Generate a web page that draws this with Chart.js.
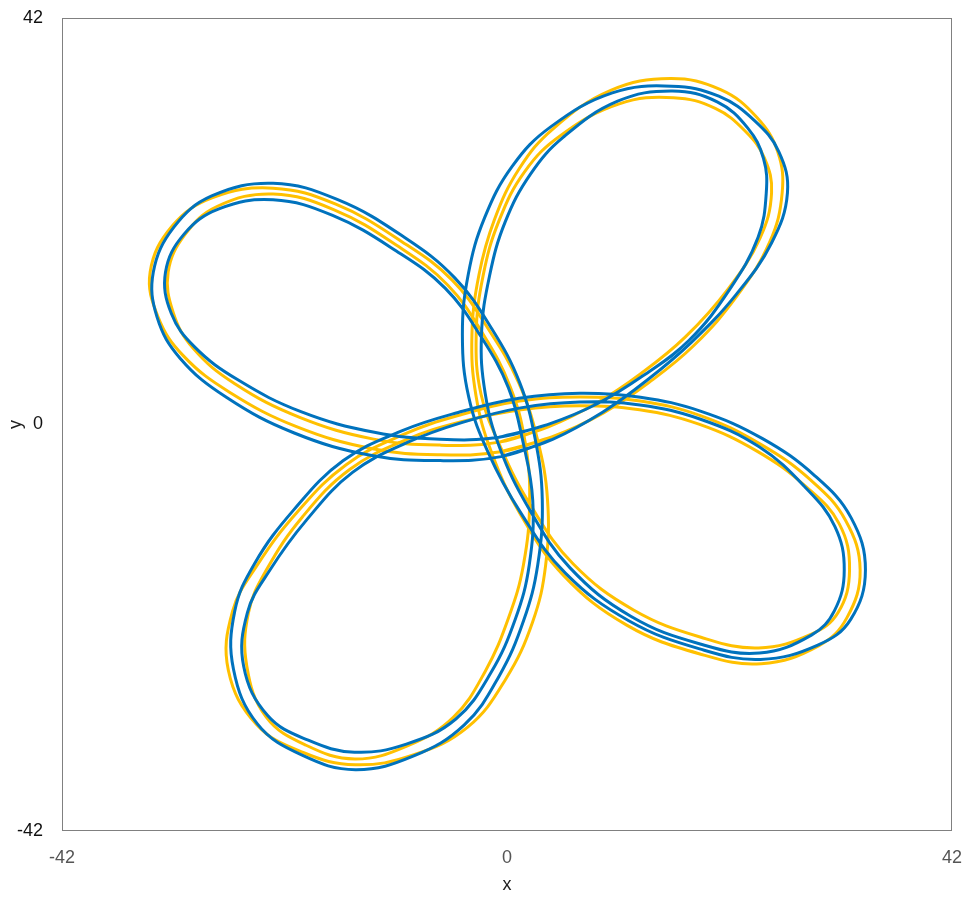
<!DOCTYPE html>
<html>
<head>
<meta charset="utf-8">
<script src="https://cdn.jsdelivr.net/npm/chart.js@4.4.1/dist/chart.umd.min.js"></script>
<style>
    html, body { margin: 0; padding: 0; background: #fff; }
    #wrap { width: 970px; height: 921px; position: relative; }
</style>
</head>
<body>
<div id="wrap"><canvas id="flower"></canvas></div>
<script>
// Tick labels on both axes
const xTicks = [-42, 0, 42];
const yTicks = [-42, 0, 42];

// Blue curve, first pass
const blue1X = [-0.56, 4.30, 9.02, 13.21, 17.40, 21.64, 24.98, 26.47, 25.65, 23.31, 19.99, 15.54, 9.94, 4.12, 0.52, -2.11, -3.65, -4.21, -3.61, -1.75,
    1.30, 5.51, 11.49, 18.18, 23.92, 29.39, 32.44, 33.83, 32.47, 29.06, 24.12, 18.32, 12.59, 6.89, 1.14, -4.61, -9.94, -15.48, -20.13, -23.83,
    -25.70, -25.82, -23.56, -19.34, -14.30, -8.80, -4.03, -0.76, 1.57, 2.90, 3.33, 2.65, 1.18, -1.42, -4.93, -9.73, -16.03, -22.08, -27.87, -31.44,
    -33.38, -33.02, -30.84, -26.49, -20.08, -12.76, -6.32];
const blue1Y = [-3.32, -1.53, 1.27, 4.57, 8.49, 13.45, 18.78, 23.92, 28.20, 31.45, 33.92, 34.96, 34.27, 30.75, 26.72, 21.37, 15.55, 9.25, 2.83, -2.96,
    -9.13, -15.35, -20.27, -23.18, -24.27, -22.76, -20.13, -15.03, -9.62, -5.30, -1.46, 1.36, 2.82, 3.23, 2.71, 1.24, -0.66, -3.75, -8.82, -14.38,
    -19.31, -25.26, -30.93, -34.17, -35.66, -34.24, -31.03, -26.03, -20.26, -14.51, -7.76, -1.45, 4.38, 9.87, 15.15, 19.37, 23.25, 24.92, 23.61, 20.39,
    15.75, 11.07, 6.83, 2.81, -0.88, -3.21, -3.73];

// Blue curve, second pass
const blue2X = [-0.76, 3.82, 8.52, 12.83, 17.19, 21.00, 23.70, 24.47, 24.21, 22.71, 19.84, 15.62, 10.44, 5.32, 2.23, -0.17, -1.65, -2.41, -2.06, -0.69,
    2.02, 5.93, 11.68, 18.23, 23.83, 28.73, 30.91, 31.83, 30.94, 28.16, 23.80, 18.20, 12.55, 6.89, 1.29, -4.28, -9.35, -14.58, -18.93, -22.39,
    -24.50, -24.85, -22.59, -18.76, -14.39, -9.50, -4.83, -1.55, 0.79, 2.10, 2.43, 1.51, 0.14, -2.46, -5.84, -10.45, -16.46, -22.08, -27.19, -30.48,
    -32.23, -31.69, -29.49, -25.44, -19.39, -12.52, -6.32];
const blue2Y = [-1.32, -0.01, 2.14, 5.03, 8.70, 13.93, 19.34, 23.92, 27.48, 30.65, 33.34, 34.46, 33.40, 29.69, 25.90, 20.93, 15.35, 9.25, 3.23, -2.40,
    -8.59, -14.79, -19.81, -22.68, -23.62, -21.76, -19.23, -15.03, -10.52, -6.50, -2.31, 0.57, 2.02, 2.33, 1.72, 0.20, -1.83, -4.95, -9.88, -15.06,
    -19.43, -25.01, -30.07, -32.62, -33.86, -33.02, -30.43, -25.71, -20.10, -14.51, -7.85, -1.81, 3.78, 9.09, 14.09, 17.93, 21.60, 23.22, 22.28, 19.67,
    15.75, 11.49, 8.02, 4.64, 1.30, -0.81, -1.53];

// Yellow curve, first pass
const gold1X = [-0.61, 4.23, 9.07, 13.39, 17.68, 21.76, 24.80, 25.97, 25.56, 23.55, 20.16, 15.42, 9.79, 4.35, 1.15, -1.19, -2.65, -3.31, -2.93, -1.48,
    1.22, 5.33, 11.30, 18.13, 23.99, 29.45, 32.10, 33.33, 31.96, 28.70, 23.91, 18.25, 12.57, 6.89, 1.19, -4.52, -9.76, -15.18, -19.83, -23.56,
    -25.90, -26.30, -23.64, -19.24, -14.32, -8.85, -3.71, -0.11, 2.41, 3.65, 3.82, 2.84, 1.10, -1.66, -5.15, -9.96, -16.16, -22.08, -27.78, -31.60,
    -33.68, -32.93, -30.54, -26.19, -19.87, -12.69, -6.32];
const gold1Y = [-2.82, -1.29, 1.18, 4.33, 8.21, 13.36, 18.86, 23.92, 28.16, 31.77, 34.60, 35.75, 34.53, 30.55, 26.42, 21.16, 15.45, 9.25, 3.00, -2.82,
    -9.19, -15.59, -20.73, -23.68, -24.71, -22.84, -19.93, -15.03, -9.92, -5.78, -2.03, 0.92, 2.42, 2.83, 2.42, 0.96, -1.02, -4.15, -9.09, -14.51,
    -19.29, -25.39, -30.99, -33.89, -35.16, -34.15, -31.27, -26.29, -20.43, -14.51, -7.71, -1.39, 4.33, 9.69, 14.89, 18.92, 22.76, 24.42, 23.44, 20.51,
    15.75, 11.10, 7.09, 3.34, -0.22, -2.51, -3.13];

// Yellow curve, second pass
const gold2X = [-0.71, 3.90, 8.47, 12.65, 16.84, 20.88, 23.88, 24.97, 24.30, 22.47, 19.66, 15.72, 10.59, 5.10, 1.69, -0.75, -2.25, -2.91, -2.45, -0.60,
    2.26, 6.23, 11.94, 18.30, 23.74, 28.68, 31.25, 32.33, 31.36, 28.22, 23.63, 18.11, 12.52, 6.89, 1.32, -4.31, -9.49, -14.82, -19.31, -22.66,
    -24.40, -24.56, -22.74, -18.96, -14.35, -9.40, -5.07, -2.06, 0.15, 1.55, 2.14, 1.70, 0.31, -2.22, -5.58, -10.23, -16.31, -22.08, -27.33, -30.40,
    -31.98, -31.50, -29.64, -25.69, -19.57, -12.59, -6.32];
const gold2Y = [-1.82, -0.25, 2.22, 5.27, 9.05, 14.02, 19.26, 23.92, 27.53, 30.33, 32.66, 33.77, 33.13, 29.89, 26.16, 21.06, 15.41, 9.25, 3.13, -2.35,
    -8.41, -14.39, -19.16, -21.98, -23.08, -21.68, -19.43, -15.03, -10.27, -6.42, -2.78, 0.03, 1.52, 1.93, 1.53, 0.29, -1.56, -4.63, -9.55, -14.94,
    -19.44, -24.94, -30.20, -33.14, -34.56, -33.20, -30.25, -25.51, -19.97, -14.51, -7.88, -1.75, 3.88, 9.27, 14.39, 18.38, 22.18, 23.82, 22.55, 19.61,
    15.75, 11.55, 7.89, 4.21, 0.74, -1.51, -2.13];

const BLUE = '#0072BD';
const GOLD = '#FFC000';

document.addEventListener('DOMContentLoaded', () => {
    drawChart();
});

// Turn two coordinate lists into a closed loop of points
function toLoop(xs, ys) {
    const pts = xs.map((x, i) => ({ x: x, y: ys[i] }));
    pts.push({ x: xs[0], y: ys[0] });
    pts.push({ x: xs[1], y: ys[1] });
    return pts;
}

function curve(label, xs, ys, color) {
    return {
        label: label,
        data: toLoop(xs, ys),
        showLine: true,
        borderColor: color,
        backgroundColor: color,
        borderWidth: 3,
        pointRadius: 0,
        pointHoverRadius: 0,
        tension: 0.4,
        fill: false,
    };
}

// Box around the plot area
const frame = {
    id: 'frame',
    afterDatasetsDraw(chart) {
        const { ctx, chartArea: a } = chart;
        ctx.save();
        ctx.strokeStyle = '#808080';
        ctx.lineWidth = 1;
        ctx.strokeRect(a.left + 0.5, a.top + 0.5, a.right - a.left - 1, a.bottom - a.top - 1);
        ctx.restore();
    }
};

function drawChart() {
    const ctx = document.getElementById('flower').getContext('2d');
    const font = { family: '"Liberation Sans", Arial, sans-serif', size: 18 };

    new Chart(ctx, {
        type: 'scatter',
        data: {
            datasets: [
                curve('blue 1', blue1X, blue1Y, BLUE),
                curve('blue 2', blue2X, blue2Y, BLUE),
                curve('yellow 1', gold1X, gold1Y, GOLD),
                curve('yellow 2', gold2X, gold2Y, GOLD),
            ],
        },
        options: {
            responsive: true,
            maintainAspectRatio: false,
            animation: false,
            layout: { padding: { top: 18, right: 18, left: 0, bottom: 0 } },
            plugins: {
                legend: { display: false },
                tooltip: { enabled: false },
            },
            scales: {
                x: {
                    type: 'linear',
                    min: -42,
                    max: 42,
                    afterBuildTicks: (s) => { s.ticks = xTicks.map(v => ({ value: v })); },
                    afterFit: (s) => {
                        s.height = 90;
                        s.paddingLeft = 0;
                        s.paddingRight = 0;
                    },
                    grid: { display: false, drawTicks: false },
                    border: { display: false },
                    ticks: { color: '#555555', font: font, padding: 16, maxRotation: 0 },
                    title: { display: true, text: 'x', color: '#222222', font: font, padding: { top: 0, bottom: 25 } },
                },
                y: {
                    type: 'linear',
                    min: -42,
                    max: 42,
                    afterBuildTicks: (s) => { s.ticks = yTicks.map(v => ({ value: v })); },
                    afterFit: (s) => {
                        s.width = 62;
                        s.paddingTop = 0;
                        s.paddingBottom = 0;
                    },
                    grid: { display: false, drawTicks: false },
                    border: { display: false },
                    ticks: { color: '#111111', font: font, padding: 19 },
                    title: { display: true, text: 'y', color: '#222222', font: font, padding: { top: 5, bottom: 0 } },
                },
            },
        },
        plugins: [frame],
    });
}
</script>
</body>
</html>
